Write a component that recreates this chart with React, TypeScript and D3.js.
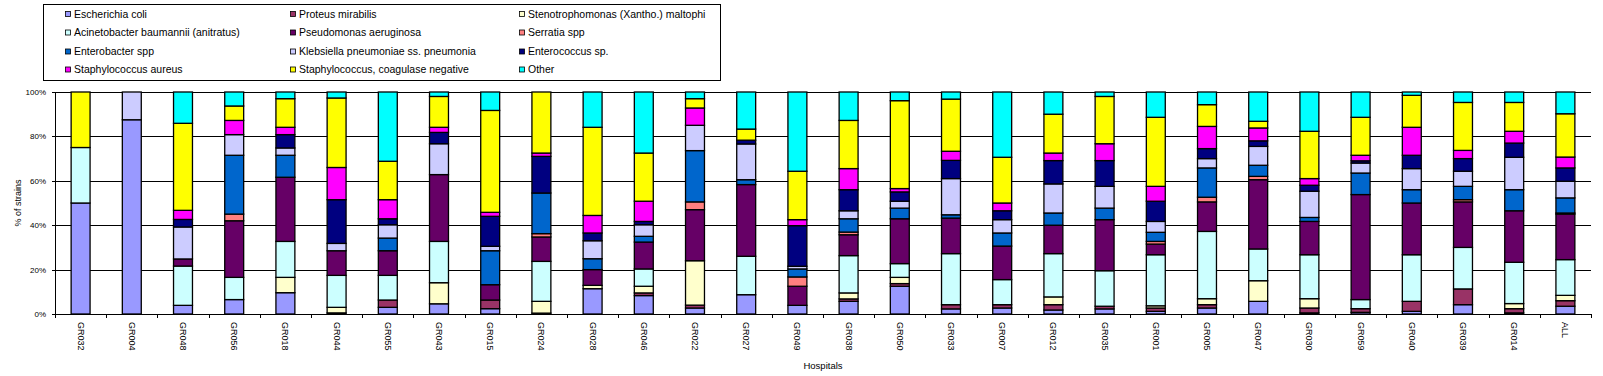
import React from "react";
import * as d3 from "d3";

const hospitals = ["GR032","GR004","GR048","GR056","GR018","GR044","GR055","GR043","GR015","GR024","GR028","GR046","GR022","GR027","GR049","GR038","GR050","GR033","GR007","GR012","GR035","GR001","GR005","GR047","GR030","GR059","GR040","GR039","GR014","ALL"];

const seriesNames = [
  "Escherichia coli","Proteus mirabilis","Stenotrophomonas (Xantho.) maltophi",
  "Acinetobacter baumannii (anitratus)","Pseudomonas aeruginosa","Serratia spp",
  "Enterobacter spp","Klebsiella pneumoniae ss. pneumonia","Enterococcus sp.",
  "Staphylococcus aureus","Staphylococcus, coagulase negative","Other"
];
const seriesColors = ["#9999FF","#993366","#FFFFCC","#CCFFFF","#660066","#FF8080","#0066CC","#CCCCFF","#000080","#FF00FF","#FFFF00","#00FFFF"];

//                    032  004  048  056  018  044  055  043  015  024  028  046  022  027  049  038  050  033  007  012  035  001  005  047  030  059  040  039  014  ALL
const eColi        = [50, 87.5, 3.9, 6.5, 9.6, 0.5, 3,   4.6, 2.4, 0.4, 11.4,8.3, 2.7, 8.7, 3.9, 5.7, 12.5,2.3, 2.7, 1.8, 2.3, 1.2, 2.7, 5.7, 0.5, 0.75,1.2, 4.2, 0.5, 3.5];
const proteus      = [0,  0,   0,   0,   0,   0,   3.3, 0,   3.9, 0,   0,   1.2, 1.3, 0,   0,   1.1, 1.2, 1.9, 1.5, 2.4, 1.2, 1.5, 1.5, 0,   2.2, 1.65,4.5, 7.1, 1.9, 2.5];
const steno        = [0,  0,   0,   0,   6.9, 2.5, 0,   9.5, 0,   5.3, 1.5, 3,   20,  0,   0,   2.7, 2.8, 0,   0,   3.5, 0,   1,   2.7, 9.3, 4.2, 0,   0,   0,   2.3, 2.4];
const acinet       = [25, 0,   17.7,10,  16.2,14.4,11.1,18.6,0,   18,  0,   7.8, 0,   17.3,0,   16.8,6.2, 23,  11.3,19.5,16,  23,  30.3,14.3,19.8,4.1, 21,  18.7,18.6,16.1];
const pseudo       = [0,  0,   3.2, 25.5,28.9,11.1,11.1,30.1,6.9, 11,  7.1, 12.1,23,  32.3,8.6, 9.4, 20.2,16,  15.1,12.8,23,  4.8, 13.3,31.2,15,  47.3,23.3,20.5,23.2,20.5];
const serratia     = [0,  0,   0,   3,   0,   0,   0,   0,   0,   1.5, 0,   0,   3.5, 0,   4.2, 1.2, 0,   0,   0,   0,   0,   1.2, 2.1, 1.5, 0,   0,   0,   1,   0,   0.5];
const enterobacter = [0,  0,   0,   26.5,9.9, 0,   5.7, 0,   15.3,18.3,4.9, 2.6, 23.1,2.2, 3.6, 6,   4.8, 1.5, 5.9, 5.5, 5.2, 4.1, 13.2,5,   1.8, 9.7, 6,   6,   9.5, 6.8];
const klebsiella   = [0,  12.5,14.4,9.3, 3.3, 3.3, 6,   13.9,2,   0,   8.1, 5.2, 11.4,16.1,1.2, 3.6, 3.1, 16.3,6,   13.1,9.8, 4.9, 4.2, 8.5, 11.8,4.5, 9.5, 6.8, 14.6,7.5];
const enterococcus = [0,  0,   3.4, 0,   6,   19.7,2.7, 5.1, 13.5,16.5,3.5, 1.5, 0,   1.7, 18.3,9.5, 4.2, 8.2, 4,   10.5,11.6,9.1, 4.5, 2.5, 2.7, 1,   6,   5.7, 6.4, 6];
const sAureus      = [0,  0,   4.1, 6.4, 3.3, 14.5,8.6, 2.3, 1.8, 1.5, 7.9, 9.1, 7.8, 0,   2.7, 9.5, 1.5, 4.1, 3.5, 3.4, 7.6, 6.7, 10,  5.8, 3,   2.5, 12.6,3.7, 5.3, 4.9];
const coNS         = [25, 0,   39.2,6.5, 12.9,31.3,17.3,13.9,45.9,27.5,39.7,21.7,4.2, 5,   21.8,21.7,39.6,23.5,20.6,17.5,21.3,31.1,9.8, 3,   21.3,17.1,14.4,21.6,13,  19.5];
const other        = [0,  0,   14.1,6.3, 3,   2.7, 31.2,2,   8.3, 0,   15.9,27.5,3,   16.7,35.7,12.8,3.9, 3.2, 29.4,10,  2,   11.4,5.7, 13.2,17.7,11.4,1.5, 4.7, 4.7, 9.8];

const seriesValues = [eColi, proteus, steno, acinet, pseudo, serratia, enterobacter, klebsiella, enterococcus, sAureus, coNS, other];
const yTicks = [0, 20, 40, 60, 80, 100];

export default function App() {
  const W = 1603, H = 376;
  const left = 55, right = 1591, top = 92, bottom = 314;

  const rows = hospitals.map((h, i) => {
    const r: any = { h };
    seriesNames.forEach((s, k) => { r[s] = seriesValues[k][i]; });
    return r;
  });
  const total = (i: number) => seriesValues.reduce((a, s) => a + s[i], 0);
  const stack = d3.stack<any>().keys(seriesNames)(rows);

  const x = d3.scaleBand().domain(hospitals).range([left, right]).padding(0);
  const y = d3.scaleLinear().domain([0, 100]).range([bottom, top]);
  const bw = x.bandwidth() * 0.37;

  const font = "Arial, 'Liberation Sans', sans-serif";
  const legendCols = [66, 291, 520];
  const legendRows = [14, 32.5, 51.5, 69.5];

  return (
    <svg width={W} height={H} style={{ position: "absolute", left: 0, top: 0, background: "#ffffff" }} fontFamily={font}>
      {/* legend */}
      <rect x={43.5} y={4.5} width={677} height={76} fill="#fff" stroke="#000" strokeWidth={1} />
      {seriesNames.map((s, k) => {
        const cx = legendCols[k % 3];
        const cy = legendRows[Math.floor(k / 3)];
        return (
          <g key={s}>
            <rect x={cx - 0.5} y={cy - 2.5} width={5} height={5} fill={seriesColors[k]} stroke="#000" strokeWidth={0.8} />
            <text x={cx + 8} y={cy + 3.8} fontSize={10.5} fill="#000">{s}</text>
          </g>
        );
      })}

      {/* gridlines */}
      {yTicks.filter(t => t > 0).map(t => (
        <line key={t} x1={left} x2={right} y1={Math.round(y(t)) + 0.5} y2={Math.round(y(t)) + 0.5} stroke="#000" strokeWidth={1} />
      ))}

      {/* bars */}
      {stack.map((layer, k) => (
        <g key={seriesNames[k]}>
          {layer.map((d, i) => {
            const h = hospitals[i];
            const t = total(i);
            const y0 = (d[0] / t) * 100, y1 = (d[1] / t) * 100;
            if (y1 - y0 <= 0) return null;
            const cx = (x(h) as number) + x.bandwidth() / 2;
            return (
              <rect key={h} x={cx - bw / 2} y={y(y1)} width={bw} height={y(y0) - y(y1)}
                fill={seriesColors[k]} stroke="#000" strokeWidth={1.3} />
            );
          })}
        </g>
      ))}

      {/* axes */}
      <line x1={left + 0.5} x2={left + 0.5} y1={top} y2={bottom} stroke="#000" strokeWidth={1} />
      <line x1={left} x2={right} y1={bottom + 0.5} y2={bottom + 0.5} stroke="#000" strokeWidth={1} />
      {yTicks.map(t => (
        <g key={t}>
          <line x1={left - 3} x2={left} y1={Math.round(y(t)) + 0.5} y2={Math.round(y(t)) + 0.5} stroke="#000" />
          <text x={46} y={y(t) + 3} fontSize={8} textAnchor="end" fill="#000">{t}%</text>
        </g>
      ))}
      {d3.range(hospitals.length + 1).map(i => {
        const xx = Math.round(left + i * x.bandwidth()) + 0.5;
        return <line key={i} x1={xx} x2={xx} y1={bottom} y2={bottom + 4} stroke="#000" />;
      })}
      {hospitals.map(h => {
        const cx = (x(h) as number) + x.bandwidth() / 2;
        return (
          <text key={h} transform={`translate(${cx - 3},${322}) rotate(90)`} fontSize={9} fill="#000">{h}</text>
        );
      })}
      <text transform={`translate(21,203) rotate(-90)`} fontSize={9} textAnchor="middle" fill="#000">% of strains</text>
      <text x={823} y={369} fontSize={9.5} textAnchor="middle" fill="#000">Hospitals</text>
    </svg>
  );
}
